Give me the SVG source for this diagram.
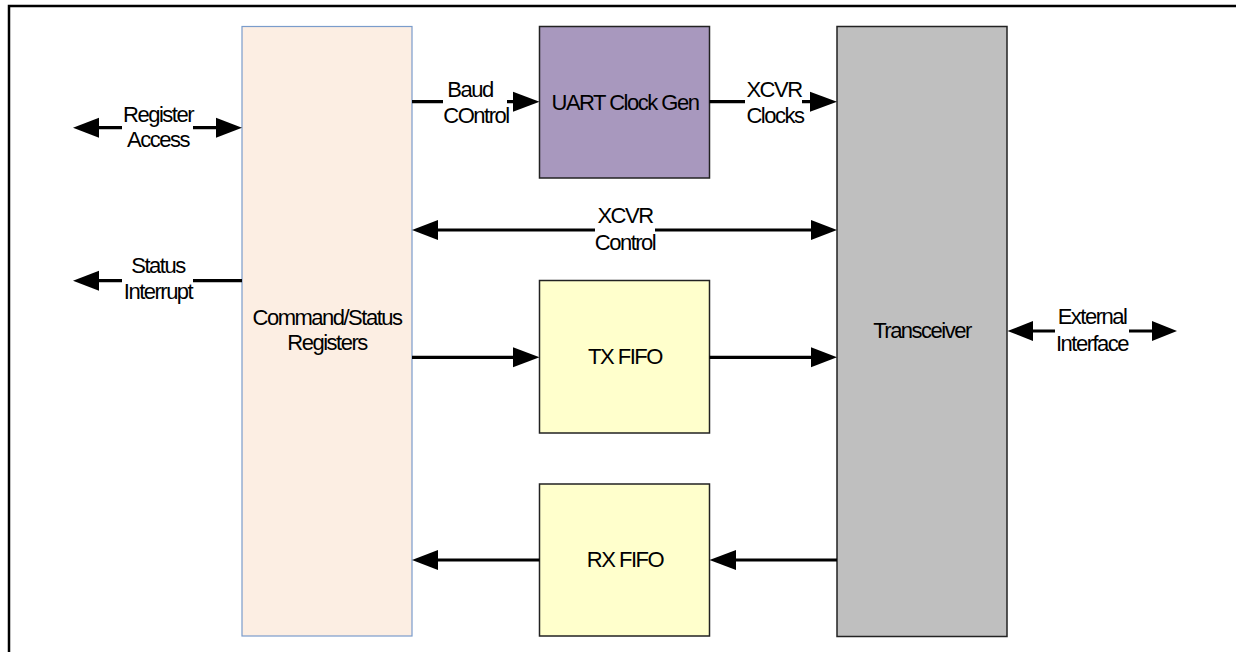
<svg xmlns="http://www.w3.org/2000/svg" width="1236" height="652" viewBox="0 0 1236 652">
<defs>
<style>
text{font-family:"Liberation Sans",Arial,sans-serif;font-size:22px;fill:#000;text-anchor:middle;letter-spacing:-1.5px}
.wire{stroke:#000;stroke-width:3.2;fill:none}
.ah{fill:#000;stroke:none}
.blk{stroke:#222;stroke-width:1.5}
</style>
</defs>
<rect width="1236" height="652" fill="#fff"/>
<g id="frame"><path d="M9,660 V6 H1236" fill="none" stroke="#000" stroke-width="2.5"/></g>

<g id="cmdstatus">
<rect x="242" y="26.5" width="170" height="609.5" fill="#FCEEE3" stroke="#7A9CCB" stroke-width="1.2"/>
<text x="327" y="325">Command/Status</text>
<text x="327" y="350">Registers</text>
</g>
<g id="uartclk">
<rect x="539.5" y="26.5" width="170" height="151.5" fill="#A898BE" class="blk"/>
<text x="625" y="110">UART Clock Gen</text>
</g>
<g id="txfifo">
<rect x="539.5" y="280.5" width="170" height="152.5" fill="#FFFFCC" class="blk"/>
<text x="625" y="364">TX FIFO</text>
</g>
<g id="rxfifo">
<rect x="539.5" y="484" width="170" height="152" fill="#FFFFCC" class="blk"/>
<text x="625" y="567">RX FIFO</text>
</g>
<g id="transceiver">
<rect x="837" y="26.5" width="170" height="610" fill="#BFBFBF" class="blk"/>
<text x="922" y="338">Transceiver</text>
</g>

<g id="connectors">
<!-- Register Access -->
<path class="wire" d="M97,127.7 H122 M193,127.7 H218"/>
<polygon class="ah" points="73,127.7 99,117.7 99,137.7"/>
<polygon class="ah" points="242,127.7 216,117.7 216,137.7"/>
<text x="158" y="122">Register</text>
<text x="158" y="147">Access</text>
<!-- Status Interrupt -->
<path class="wire" d="M97,280.7 H122 M193,280.7 H242"/>
<polygon class="ah" points="73,280.7 99,270.7 99,290.7"/>
<text x="158" y="273">Status</text>
<text x="158" y="299">Interrupt</text>
<!-- Baud Control -->
<path class="wire" d="M412,101.7 H443 M507,101.7 H515"/>
<polygon class="ah" points="539.5,101.7 513,91.7 513,111.7"/>
<text x="470" y="97">Baud</text>
<text x="476" y="123">COntrol</text>
<!-- XCVR Clocks -->
<path class="wire" d="M709.5,101.7 H745 M802,101.7 H812"/>
<polygon class="ah" points="837,101.7 810,91.7 810,111.7"/>
<text x="774" y="97">XCVR</text>
<text x="775" y="123">Clocks</text>
<!-- XCVR Control -->
<path class="wire" d="M436,230 H595 M655,230 H813"/>
<polygon class="ah" points="412,230 438,220 438,240"/>
<polygon class="ah" points="837,230 811,220 811,240"/>
<text x="625" y="223">XCVR</text>
<text x="625" y="250">Control</text>
<!-- TX path -->
<path class="wire" d="M412,357.3 H515 M709.5,357.3 H813"/>
<polygon class="ah" points="539.5,357.3 513,347.3 513,367.3"/>
<polygon class="ah" points="837,357.3 811,347.3 811,367.3"/>
<!-- RX path -->
<path class="wire" d="M436,560 H539.5 M734,560 H837"/>
<polygon class="ah" points="412,560 438,550 438,570"/>
<polygon class="ah" points="709.5,560 736,550 736,570"/>
<!-- External Interface -->
<path class="wire" d="M1031,331 H1055 M1129,331 H1154"/>
<polygon class="ah" points="1007.5,331 1033,321 1033,341"/>
<polygon class="ah" points="1177,331 1152,321 1152,341"/>
<text x="1092" y="324">External</text>
<text x="1092" y="351">Interface</text>
</g>
</svg>
